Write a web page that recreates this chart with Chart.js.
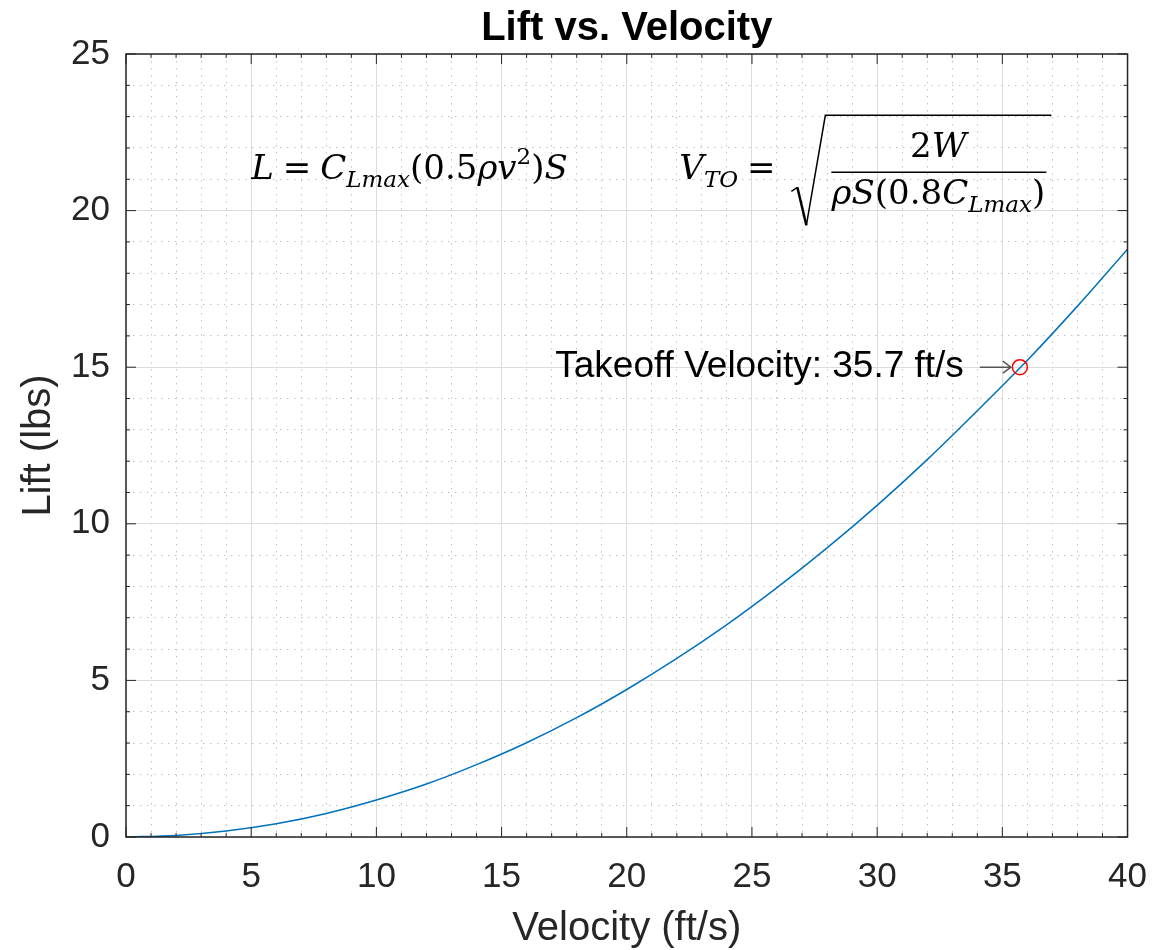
<!DOCTYPE html>
<html>
<head>
<meta charset="utf-8">
<title>Lift vs. Velocity</title>
<script src="https://cdn.jsdelivr.net/npm/chart.js@4.4.0/dist/chart.umd.min.js"></script>
<style>
  body { margin: 0; background: #fff; }
  #wrap { width: 1166px; height: 950px; }
</style>
</head>
<body>
<div id="wrap"><canvas id="liftChart"></canvas></div>
<script>
// Lift curve (ft/s -> lbs)
const velocity = [0, 2, 4, 6, 8, 10, 12, 14, 16, 18, 20, 22, 24, 26, 28, 30, 32, 34, 36, 38, 40];
const lift = [0, 0.05, 0.19, 0.42, 0.75, 1.18, 1.69, 2.31, 3.01, 3.81, 4.71, 5.70, 6.78, 7.96, 9.23, 10.59, 12.05, 13.61, 15.22, 16.95, 18.77];

// Takeoff point
const takeoffVelocity = [35.7];
const takeoffLift = [15];

// Labelled ticks
const xTickLabels = [0, 5, 10, 15, 20, 25, 30, 35, 40];
const yTickLabels = [0, 5, 10, 15, 20, 25];

const axisColor = '#262626';
const sans = '"Liberation Sans", Arial, sans-serif';
const serif = '"DejaVu Serif", serif';

function isMajor(v, list) {
    return list.includes(Math.round(v * 1000) / 1000);
}

// draws a list of text pieces one after another, returns end x
function drawRuns(ctx, runs, x, y) {
    runs.forEach(r => {
        ctx.font = r.f;
        ctx.fillText(r.t, x, y + (r.dy || 0));
        x += ctx.measureText(r.t).width + (r.gap || 0);
    });
    return x;
}

function runsWidth(ctx, runs) {
    let w = 0;
    runs.forEach(r => {
        ctx.font = r.f;
        w += ctx.measureText(r.t).width + (r.gap || 0);
    });
    return w;
}

// MATLAB-ish title, box, inward ticks and the text annotations
const matlabAxes = {
    id: 'matlabAxes',
    afterDraw(chart) {
        const ctx = chart.ctx;
        const xs = chart.scales.x;
        const ys = chart.scales.y;
        const a = chart.chartArea;

        ctx.save();
        // title centred over the axes
        ctx.fillStyle = '#000';
        ctx.font = 'bold 40px ' + sans;
        ctx.textAlign = 'center';
        ctx.textBaseline = 'alphabetic';
        ctx.fillText('Lift vs. Velocity', (a.left + a.right) / 2, 40);

        ctx.strokeStyle = axisColor;
        ctx.lineWidth = 1.5;
        ctx.strokeRect(a.left, a.top, a.right - a.left, a.bottom - a.top);

        // ticks pointing inward
        ctx.lineWidth = 1;
        ctx.beginPath();
        for (let v = 0; v <= 40; v++) {
            const px = xs.getPixelForValue(v);
            const len = isMajor(v, xTickLabels) ? 10 : 4;
            ctx.moveTo(px, a.bottom); ctx.lineTo(px, a.bottom - len);
            ctx.moveTo(px, a.top); ctx.lineTo(px, a.top + len);
        }
        for (let v = 0; v <= 25; v++) {
            const py = ys.getPixelForValue(v);
            const len = isMajor(v, yTickLabels) ? 10 : 4;
            ctx.moveTo(a.left, py); ctx.lineTo(a.left + len, py);
            ctx.moveTo(a.right, py); ctx.lineTo(a.right - len, py);
        }
        ctx.stroke();

        // takeoff label with arrow
        const mx = xs.getPixelForValue(takeoffVelocity[0]);
        const my = ys.getPixelForValue(takeoffLift[0]);
        ctx.fillStyle = '#000';
        ctx.font = '37px ' + sans;
        ctx.textAlign = 'right';
        ctx.textBaseline = 'middle';
        ctx.fillText('Takeoff Velocity: 35.7 ft/s', mx - 56, my);
        ctx.strokeStyle = '#555';
        ctx.lineWidth = 1.5;
        ctx.beginPath();
        ctx.moveTo(mx - 40, my); ctx.lineTo(mx - 9, my);
        ctx.moveTo(mx - 17, my - 6); ctx.lineTo(mx - 9, my); ctx.lineTo(mx - 17, my + 6);
        ctx.stroke();

        // equations
        const it = 'italic 34px ' + serif;
        const rm = '34px ' + serif;
        const sub = 'italic 23px ' + serif;
        const sup = '23px ' + serif;
        ctx.textAlign = 'left';
        ctx.textBaseline = 'alphabetic';
        ctx.fillStyle = '#000';

        const e1x = xs.getPixelForValue(5);
        const e1y = ys.getPixelForValue(21);
        drawRuns(ctx, [
            { t: 'L', f: it, gap: 9 },
            { t: '=', f: rm, gap: 9 },
            { t: 'C', f: it },
            { t: 'Lmax', f: sub, dy: 8 },
            { t: '(0.5', f: rm },
            { t: 'ρv', f: it },
            { t: '2', f: sup, dy: -15 },
            { t: ')', f: rm },
            { t: 'S', f: it }
        ], e1x, e1y);

        const e2x = xs.getPixelForValue(22.1);
        const e2y = ys.getPixelForValue(21);
        drawRuns(ctx, [
            { t: 'V', f: it },
            { t: 'TO', f: sub, dy: 8, gap: 9 },
            { t: '=', f: rm }
        ], e2x, e2y);

        // radical sign
        ctx.strokeStyle = '#000';
        ctx.lineWidth = 1.5;
        ctx.beginPath();
        ctx.moveTo(e2x + 112, e2y + 12);
        ctx.lineTo(e2x + 118, e2y + 8);
        ctx.stroke();
        ctx.lineWidth = 2.5;
        ctx.beginPath();
        ctx.moveTo(e2x + 118, e2y + 8);
        ctx.lineTo(e2x + 127, e2y + 46);
        ctx.stroke();
        ctx.lineWidth = 1.5;
        ctx.beginPath();
        ctx.moveTo(e2x + 127, e2y + 46);
        ctx.lineTo(e2x + 146, e2y - 64);
        ctx.lineTo(e2x + 372, e2y - 64);
        ctx.stroke();

        // fraction
        ctx.beginPath();
        ctx.moveTo(e2x + 152, e2y - 7);
        ctx.lineTo(e2x + 367, e2y - 7);
        ctx.stroke();
        const fracMid = e2x + 259;
        const num = [{ t: '2', f: rm }, { t: 'W', f: it }];
        const den = [
            { t: 'ρS', f: it },
            { t: '(0.8', f: rm },
            { t: 'C', f: it },
            { t: 'Lmax', f: sub, dy: 8 },
            { t: ')', f: rm }
        ];
        drawRuns(ctx, num, fracMid - runsWidth(ctx, num) / 2, e2y - 22);
        drawRuns(ctx, den, fracMid - runsWidth(ctx, den) / 2, e2y + 25);

        ctx.restore();
    }
};

const ctx = document.getElementById('liftChart').getContext('2d');
new Chart(ctx, {
    type: 'scatter',
    data: {
        datasets: [{
            label: 'Lift',
            data: velocity.map((v, i) => ({ x: v, y: lift[i] })),
            showLine: true,
            borderColor: '#0072BD',
            borderWidth: 1.5,
            pointRadius: 0,
            cubicInterpolationMode: 'monotone',
            order: 2
        }, {
            label: 'Takeoff',
            data: takeoffVelocity.map((v, i) => ({ x: v, y: takeoffLift[i] })),
            showLine: false,
            pointRadius: 7.5,
            pointBorderWidth: 1.5,
            pointBorderColor: '#ff0000',
            pointBackgroundColor: 'rgba(0,0,0,0)',
            order: 1
        }]
    },
    options: {
        responsive: true,
        maintainAspectRatio: false,
        animation: false,
        layout: { padding: { top: 54, right: 36, bottom: 0, left: 0 } },
        plugins: {
            legend: { display: false },
            tooltip: { enabled: false },
            title: { display: false }
        },
        scales: {
            x: {
                type: 'linear',
                min: 0,
                max: 40,
                afterFit: s => { s.height = 113; },
                ticks: {
                    stepSize: 1,
                    autoSkip: false,
                    maxRotation: 0,
                    padding: 19,
                    color: axisColor,
                    font: { family: sans, size: 35 },
                    callback: v => isMajor(v, xTickLabels) ? v : ''
                },
                grid: {
                    drawTicks: false,
                    lineWidth: 1,
                    color: c => isMajor(c.tick.value, xTickLabels) ? '#dcdcdc' : '#c2c2c2'
                },
                border: {
                    display: false,
                    dash: c => (c.tick && !isMajor(c.tick.value, xTickLabels)) ? [1.5, 5.5] : []
                },
                title: {
                    display: true,
                    text: 'Velocity (ft/s)',
                    color: axisColor,
                    font: { family: sans, size: 40, lineHeight: 1.05 },
                    padding: { top: 0, bottom: 0 }
                }
            },
            y: {
                type: 'linear',
                min: 0,
                max: 25,
                afterFit: s => { s.width = 126; },
                ticks: {
                    stepSize: 1,
                    autoSkip: false,
                    padding: 16,
                    color: axisColor,
                    font: { family: sans, size: 35 },
                    callback: v => isMajor(v, yTickLabels) ? v : ''
                },
                grid: {
                    drawTicks: false,
                    lineWidth: 1,
                    color: c => isMajor(c.tick.value, yTickLabels) ? '#dcdcdc' : '#c2c2c2'
                },
                border: {
                    display: false,
                    dash: c => (c.tick && !isMajor(c.tick.value, yTickLabels)) ? [1.5, 5.5] : []
                },
                title: {
                    display: true,
                    text: 'Lift (lbs)',
                    color: axisColor,
                    font: { family: sans, size: 40, lineHeight: 1.05 },
                    padding: { top: 18, bottom: 0 }
                }
            }
        }
    },
    plugins: [matlabAxes]
});
</script>
</body>
</html>
